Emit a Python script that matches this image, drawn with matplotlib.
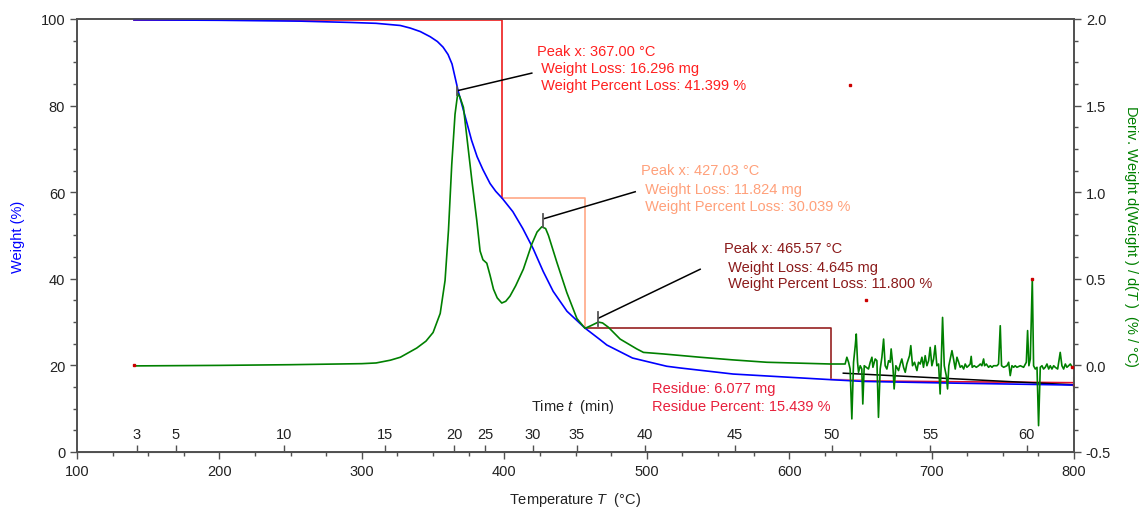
import numpy as np
import matplotlib
matplotlib.use("Agg")
import matplotlib.pyplot as plt
from matplotlib.ticker import MultipleLocator

plt.rcParams['font.family'] = ['Liberation Sans', 'DejaVu Sans']
plt.rcParams['mathtext.fontset'] = 'custom'
plt.rcParams['mathtext.rm'] = 'Liberation Sans'
plt.rcParams['mathtext.it'] = 'Liberation Sans:italic'
plt.rcParams['font.size'] = 10.5

# weight curve (%)
weight_temp = [140, 200, 257, 292, 310, 327, 334, 341, 348, 353, 357, 360.5, 363.3, 367.6, 373.9,
               377, 380.9, 385, 390, 394, 398.5, 406, 413, 420.2, 427.3, 434.3, 444, 456.7, 467,
               472, 490, 514, 523.5, 560.7, 629.5, 652, 716, 800]
weight_pct = [99.8, 99.7, 99.5, 99.2, 99.0, 98.5, 97.9, 97.1, 95.9, 94.8, 93.5, 91.8, 89.6, 83.4, 75.8,
              72.0, 68.2, 65.2, 62.0, 60.2, 58.6, 55.5, 51.6, 47.0, 41.7, 37.1, 32.5, 28.6, 26.0,
              24.7, 21.7, 19.8, 19.4, 18.0, 16.7, 16.3, 15.9, 15.45]

# derivative curve (%/°C), smooth part
deriv_temp = [140, 200, 250, 300, 310, 320, 327, 338.5, 345, 350, 355, 358.4, 360.8, 363.1,
              365.4, 367.3, 368.8, 371.3, 373.7, 377.2, 380.7, 383, 385, 387.7, 390, 392.4, 395,
              398.2, 401, 404, 408, 413.4, 419.3, 423, 426.3, 429, 431, 436.9, 443.9, 451,
              456.7, 461, 466, 469, 473.1, 481.3, 493, 497.7, 511.7, 537.5, 560, 584.3, 610,
              628.8, 639.3]
deriv_val = [-0.003, 0.0, 0.004, 0.01, 0.014, 0.03, 0.047, 0.10, 0.14, 0.19, 0.30, 0.49, 0.78, 1.16,
             1.45, 1.57, 1.55, 1.49, 1.32, 1.07, 0.835, 0.66, 0.61, 0.59, 0.52, 0.44, 0.39,
             0.36, 0.37, 0.40, 0.46, 0.556, 0.70, 0.77, 0.80, 0.79, 0.75, 0.595, 0.42, 0.27,
             0.214, 0.23, 0.25, 0.245, 0.22, 0.152, 0.095, 0.075, 0.066, 0.047, 0.032, 0.018, 0.012,
             0.008, 0.008]

# derivative curve, noisy tail
noise_temp = [640.5, 641.7, 642.8, 644.0, 645.2, 646.4, 647.1, 648.0, 648.7, 649.9, 651.0, 651.7,
              652.7, 654.1, 655.7, 656.9, 658.1, 658.8, 660.4, 661.6, 662.7, 663.9, 665.1, 666.3,
              667.4, 668.6, 669.8, 670.9, 671.6, 672.8, 673.7, 674.9, 676.8, 678.0, 679.1, 680.3,
              681.5, 682.6, 684.5, 685.4, 686.6, 688.0, 689.7, 690.8, 692.0, 693.2, 694.3, 695.5,
              696.7, 697.9, 699.0, 700.2, 701.4, 702.5, 703.7, 704.9, 706.0, 706.7, 707.7, 708.9,
              710.3, 711.2, 712.1, 714.3, 715.4, 716.6, 717.8, 719.0, 720.1, 721.3, 722.5, 723.6,
              724.8, 726.0, 727.1, 727.8, 728.5, 729.9, 731.4, 733.0, 734.2, 735.3, 736.5, 737.2,
              738.4, 740.0, 741.2, 742.4, 743.5, 745.9, 747.0, 748.2, 749.1, 750.6, 752.9, 754.1,
              755.2, 756.4, 757.6, 758.7, 759.9, 762.3, 764.6, 766.5, 767.4, 768.3, 769.3, 770.7,
              771.6, 772.8, 774.0, 775.1, 776.3, 777.5, 778.6, 779.8, 781.0, 782.2, 783.3, 784.5,
              785.7, 786.8, 788.5, 790.3, 791.5, 792.7, 793.9, 795.0, 796.2, 797.4, 798.5]
noise_val = [0.047, 0.018, -0.021, -0.309, 0.018, 0.114, 0.181, 0.018, -0.040, -0.002, -0.021, -0.223,
             -0.002, -0.011, -0.021, 0.018, 0.047, -0.011, 0.037, 0.027, -0.300, -0.021, 0.047, 0.152,
             -0.002, -0.021, 0.027, 0.018, 0.095, -0.002, -0.136, -0.002, -0.030, 0.008, 0.037, -0.011,
             -0.040, 0.008, 0.056, 0.114, -0.002, 0.018, -0.030, 0.018, 0.008, 0.047, -0.011, 0.056,
             -0.002, 0.027, 0.104, -0.002, 0.037, 0.114, -0.002, 0.008, -0.165, -0.002, 0.277, -0.002,
             -0.059, -0.136, -0.002, 0.085, 0.037, -0.021, 0.047, 0.018, -0.011, -0.002, -0.021, 0.008,
             -0.011, -0.002, 0.008, 0.052, -0.011, -0.002, -0.011, -0.002, 0.008, -0.002, 0.037, -0.002,
             0.008, -0.011, -0.002, -0.011, -0.002, -0.002, 0.008, 0.229, -0.002, -0.011, -0.002, 0.018,
             -0.059, -0.002, -0.011, -0.002, -0.011, -0.002, -0.011, 0.018, 0.201, -0.002, 0.037, 0.499,
             -0.002, -0.021, -0.011, -0.348, -0.011, -0.002, -0.021, -0.011, 0.008, -0.021, -0.002, -0.021,
             -0.002, -0.011, -0.021, 0.075, -0.002, -0.021, 0.008, -0.011, -0.002, 0.008, -0.007]

# weight-loss steps
step_temp = [140, 398.5, 456.7, 629.5]
step_level = [99.8, 58.6, 28.56, 16.76]
step_colors = ['#ee1c1c', '#ffa886', '#962020']

# peaks
peak_temp = [367.00, 427.03, 465.57]
loss_mg = [16.296, 11.824, 4.645]
loss_pct = [41.399, 30.039, 11.800]
residue_mg = 6.077
residue_pct = 15.439

# time axis (min) and the temperature where each time falls
time_labels = [3, 5, 10, 15, 20, 25, 30, 35, 40, 45, 50, 55, 60]
time_at_temp = [142, 169.5, 245.3, 316, 364.7, 386.5, 420, 451, 498.8, 561.8, 630, 699, 766.7]

fig = plt.figure(figsize=(11.46, 5.10), dpi=100)
ax = fig.add_axes([0.0672, 0.1118, 0.8700, 0.8490])
ax2 = ax.twinx()

ax.set_xlim(100, 800)
ax.set_ylim(0, 100)
ax2.set_ylim(-0.5, 2.0)

# steps
for i in range(3):
    ax.plot([step_temp[i], step_temp[i + 1], step_temp[i + 1]],
            [step_level[i], step_level[i], step_level[i + 1]],
            color=step_colors[i], lw=1.2, zorder=2)
ax.plot([629.5, 652], [16.76, 16.6], color='#ff8a8a', lw=1.2, zorder=2)
ax.plot([652, 800], [16.4, 16.0], color='#e0102a', lw=1.2, zorder=2)
ax.plot([638, 800], [18.2, 15.5], color='black', lw=1.1, zorder=3)
ax.plot([800, 800], [17.0, 14.1], color='#666666', lw=1.5, zorder=3)

ax.plot(weight_temp, weight_pct, color='#0000ff', lw=1.2, zorder=4)

ax2.plot(deriv_temp + noise_temp, deriv_val + noise_val, color='#008000', lw=1.2, zorder=4)

# small markers
ax2.plot([140, 798.5, 770.7], [0.0, -0.007, 0.5], 's', color='#cc0000', ms=2, zorder=5)
ax.plot([642.8, 654, 800], [84.8, 35.2, 15.45], 's', color='#cc0000', ms=1.8, zorder=5)

# peak annotation leaders and ticks
lead_start = [(367.8, 83.5), (428.0, 53.9), (466.1, 30.9)]
lead_end = [(419.3, 87.5), (491.9, 60.1), (537.5, 42.2)]
for (x0, y0), (x1, y1) in zip(lead_start, lead_end):
    ax.plot([x0, x1], [y0, y1], color='black', lw=1.1, zorder=6)
tick_span = [(1.56, 1.61), (0.80, 0.875), (0.227, 0.308)]
for t, (lo, hi) in zip(peak_temp, tick_span):
    ax2.plot([t, t], [lo, hi], color='#555555', lw=1.3, zorder=6)

text_colors = ['#ff2020', '#ffa07a', '#8b1a1a']
text_pos = [(423.0, [92.6, 88.7, 84.8]), (496.0, [65.1, 60.7, 56.8]), (554.3, [47.1, 42.7, 39.0])]
for i in range(3):
    x, ys = text_pos[i]
    lines = ['Peak x: %.2f °C' % peak_temp[i],
             ' Weight Loss: %.3f mg' % loss_mg[i],
             ' Weight Percent Loss: %.3f %%' % loss_pct[i]]
    for line, y in zip(lines, ys):
        ax.text(x, y, line, color=text_colors[i], ha='left', va='center', fontsize=10.5, zorder=7)

ax.text(503.7, 14.8, 'Residue: %.3f mg' % residue_mg, color='#e8203c', ha='left', va='center')
ax.text(503.7, 10.6, 'Residue Percent: %.3f %%' % residue_pct, color='#e8203c', ha='left', va='center')
ax.text(418.8, 10.6, r'Time $t$  (min)', color='#222222', ha='left', va='center')

# axes styling
for a in (ax, ax2):
    for s in a.spines.values():
        s.set_color('#505050')
        s.set_linewidth(1.2)
ax.xaxis.set_major_locator(MultipleLocator(100))
ax.xaxis.set_minor_locator(MultipleLocator(25))
ax.yaxis.set_major_locator(MultipleLocator(20))
ax.yaxis.set_minor_locator(MultipleLocator(5))
ax2.yaxis.set_major_locator(MultipleLocator(0.5))
ax2.yaxis.set_minor_locator(MultipleLocator(0.125))
ax2.set_yticks(ax2.get_yticks())
ax2.set_yticklabels(['%.1f' % v for v in ax2.get_yticks()])
ax2.set_ylim(-0.5, 2.0)
for a in (ax, ax2):
    a.tick_params(which='major', length=5, width=1, color='#505050', labelcolor='#222222', labelsize=10.5)
    a.tick_params(which='minor', length=3, width=1, color='#505050')

sec = ax.secondary_xaxis('bottom')
sec.set_xticks(time_at_temp)
sec.set_xticklabels([str(t) for t in time_labels])
sec.tick_params(direction='in', length=5, width=1, pad=-18, color='#505050', labelcolor='#222222',
                labelsize=10.5)
sec.spines['bottom'].set_color('#505050')

ax.set_xlabel(r'Temperature $T$  (°C)', color='#222222', labelpad=9)
ax.set_ylabel('Weight (%)', color='#0000ff', labelpad=11)
ax2.set_ylabel(r'Deriv. Weight d(Weight ) / d($T$ )  (% / °C)', color='#008000', rotation=270,
               labelpad=21)

fig.savefig('out.png', dpi=100)
